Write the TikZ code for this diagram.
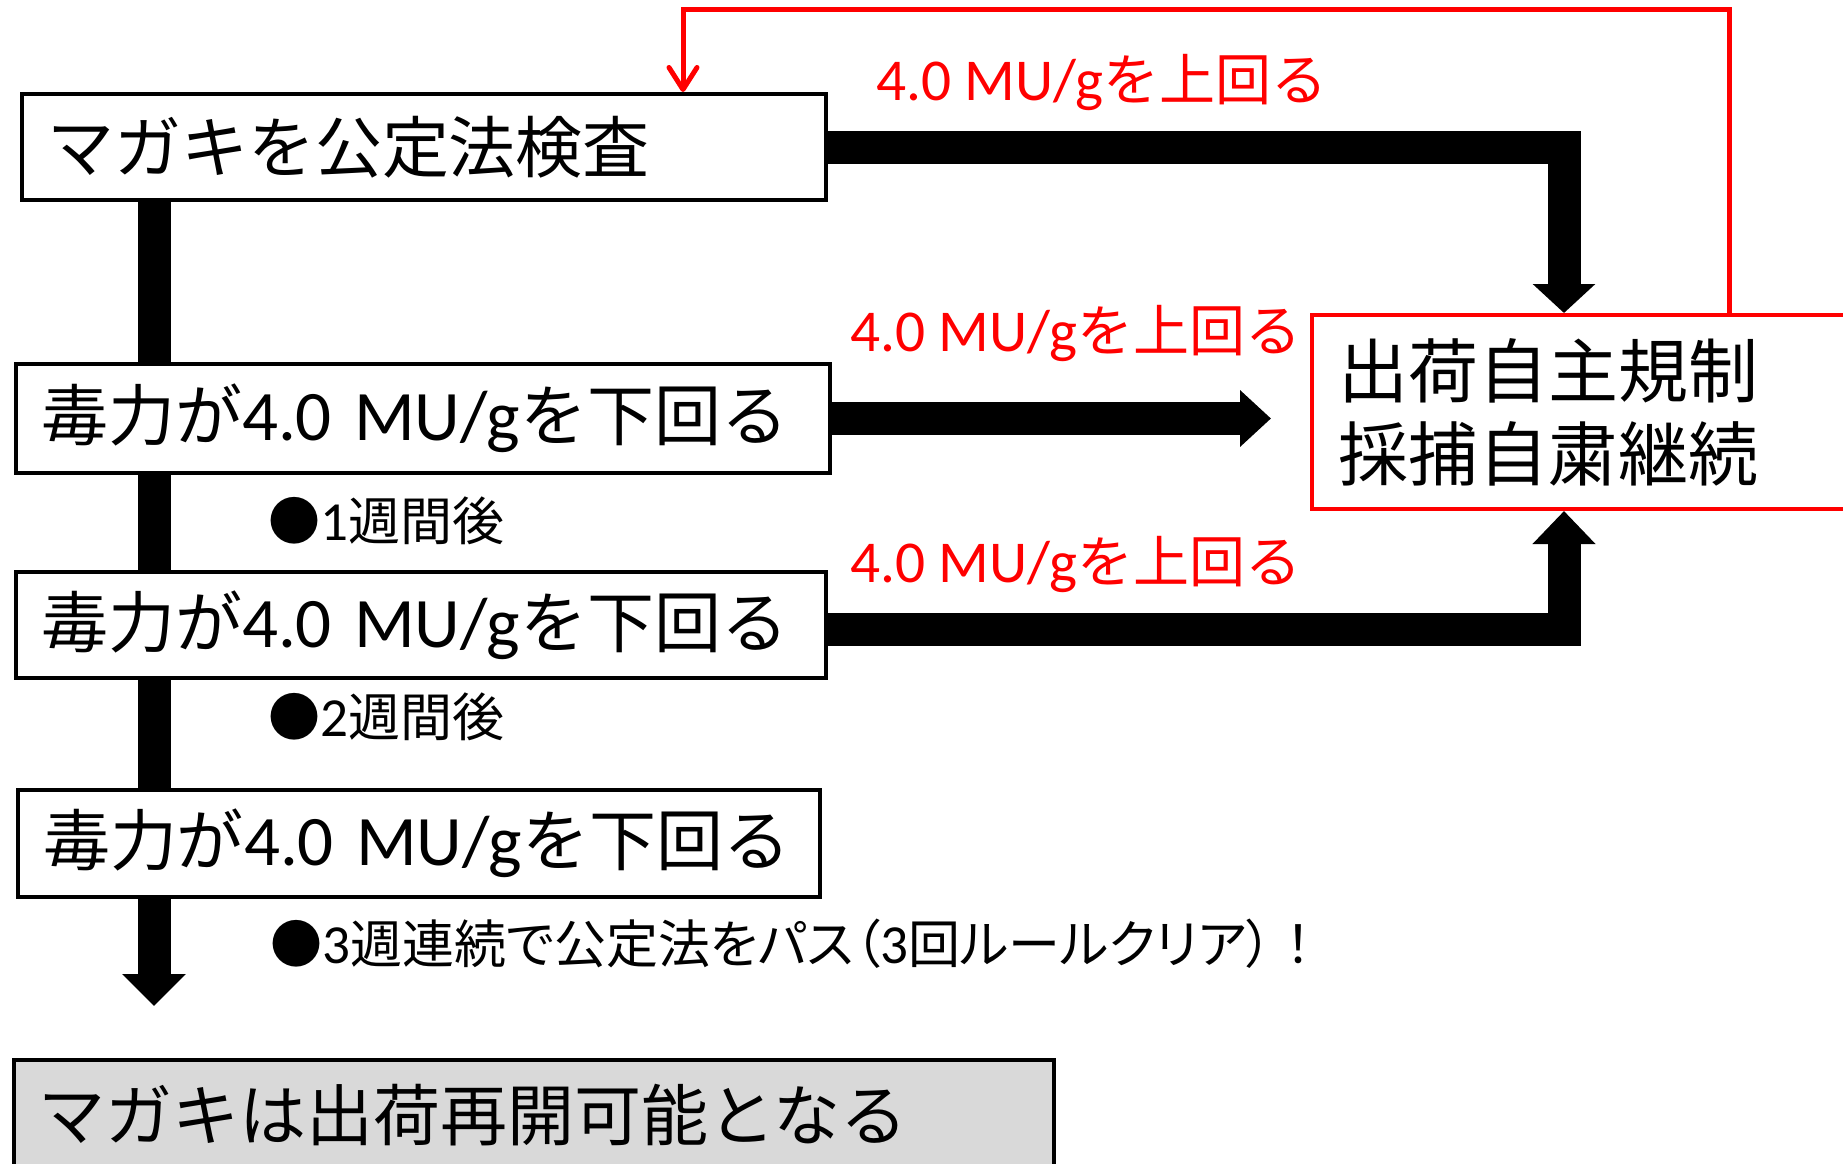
\documentclass[tikz,border=0pt]{standalone}
\usepackage{fontspec}
\newfontfamily\jp{Noto Sans CJK JP}
\newfontfamily\jpp[RawFeature=+palt]{Noto Sans CJK JP}
\newfontfamily\lat[Scale=1.06]{Carlito}
\usetikzlibrary{arrows.meta}
\begin{document}
\begin{tikzpicture}[x=0.5pt,y=-0.5pt,
  box/.style 2 args={draw=black,line width=2pt,fill=white,inner xsep=12.5pt,inner ysep=0pt,
    text width=#1,minimum height=#2,align=left,font=\jp\fontsize{33.5}{40}\selectfont},
  redbox/.style={draw=red,line width=2pt,fill=white,inner xsep=13pt,inner ysep=0pt,
    text width=268pt,minimum height=97pt,align=left,font=\jp\fontsize{35}{41.5}\selectfont},
  redlab/.style={anchor=west,inner sep=0pt,text=red,font=\jp\fontsize{28}{32}\selectfont},
  smalllab/.style={anchor=west,inner sep=0pt,font=\jpp\fontsize{26}{30}\selectfont},
  thk/.style={line width=16.5pt,line join=miter,draw=black},
  fb/.style={draw=red,line width=2.5pt,line join=miter}
]
\useasboundingbox (0,0) rectangle (1843,1163);
\clip (0,0) rectangle (1843,1163);

% coordinates for connector routes
\coordinate (vl) at (154,0);
\coordinate (vx) at (1564,0);
\coordinate (rR) at (1729,9);
\coordinate (rL) at (683,9);

% boxes
\node[box={377pt}{53pt}] (b1) at (424,147) {マガキを公定法検査};
\node[box={382pt}{54.5pt}] (b2) at (423,418.5) {毒力が{\lat 4.0 MU/g}を下回る};
\node[box={380pt}{53pt}] (b3) at (421,625) {毒力が{\lat 4.0 MU/g}を下回る};
\node[box={376pt}{53.5pt}] (b4) at (419,843.5) {毒力が{\lat 4.0 MU/g}を下回る};
\node[box={495pt}{55pt},fill={rgb,255:red,217;green,217;blue,217}] (bb) at (534,1115) {マガキは出荷再開可能となる};
\node[redbox] (rb) at (1606,412) {出荷自主規制\\採捕自粛継続};

% labels
\node[redlab] (l1) at (876,82) {{\lat 4.0 MU/g}を上回る};
\node[redlab] (l2) at (850,333) {{\lat 4.0 MU/g}を上回る};
\node[redlab] (l3) at (850,564) {{\lat 4.0 MU/g}を上回る};
\node[smalllab] (s1) at (268,521) {●{\lat 1}週間後};
\node[smalllab] (s2) at (268,717) {●{\lat 2}週間後};
\node[smalllab] (s3) at (270,944) {●{\lat 3}週連続で公定法をパス（{\lat 3}回ルールクリア）{\jp ！}};

% vertical trunk
\draw[thk] (b1.south -| vl) -- (b2.north -| vl);
\draw[thk] (b2.south -| vl) -- (b3.north -| vl);
\draw[thk] (b3.south -| vl) -- (b4.north -| vl);
\draw[thk,-{Triangle[width=31pt,length=16pt]},shorten >=26pt] (b4.south -| vl) -- (bb.north -| vl);

% arrows to the right box
\draw[thk,-{Triangle[width=30.5pt,length=14.5pt]}] (b1.east) -| (rb.north -| vx);
\draw[thk,-{Triangle[width=27.5pt,length=15.5pt]},shorten >=19.5pt] (b2.east) -- (rb.west |- b2.east);
\draw[thk,-{Triangle[width=30.5pt,length=16.5pt]}] ([yshift=-2pt]b3.east) -| (rb.south -| vx);

% feedback
\draw[fb,-{Straight Barb[length=11pt,width=14pt,line width=2.5pt,round]}] (rb.north -| rR) -- (rR) -- (rL) -- (b1.north -| rL);
\end{tikzpicture}
\end{document}
